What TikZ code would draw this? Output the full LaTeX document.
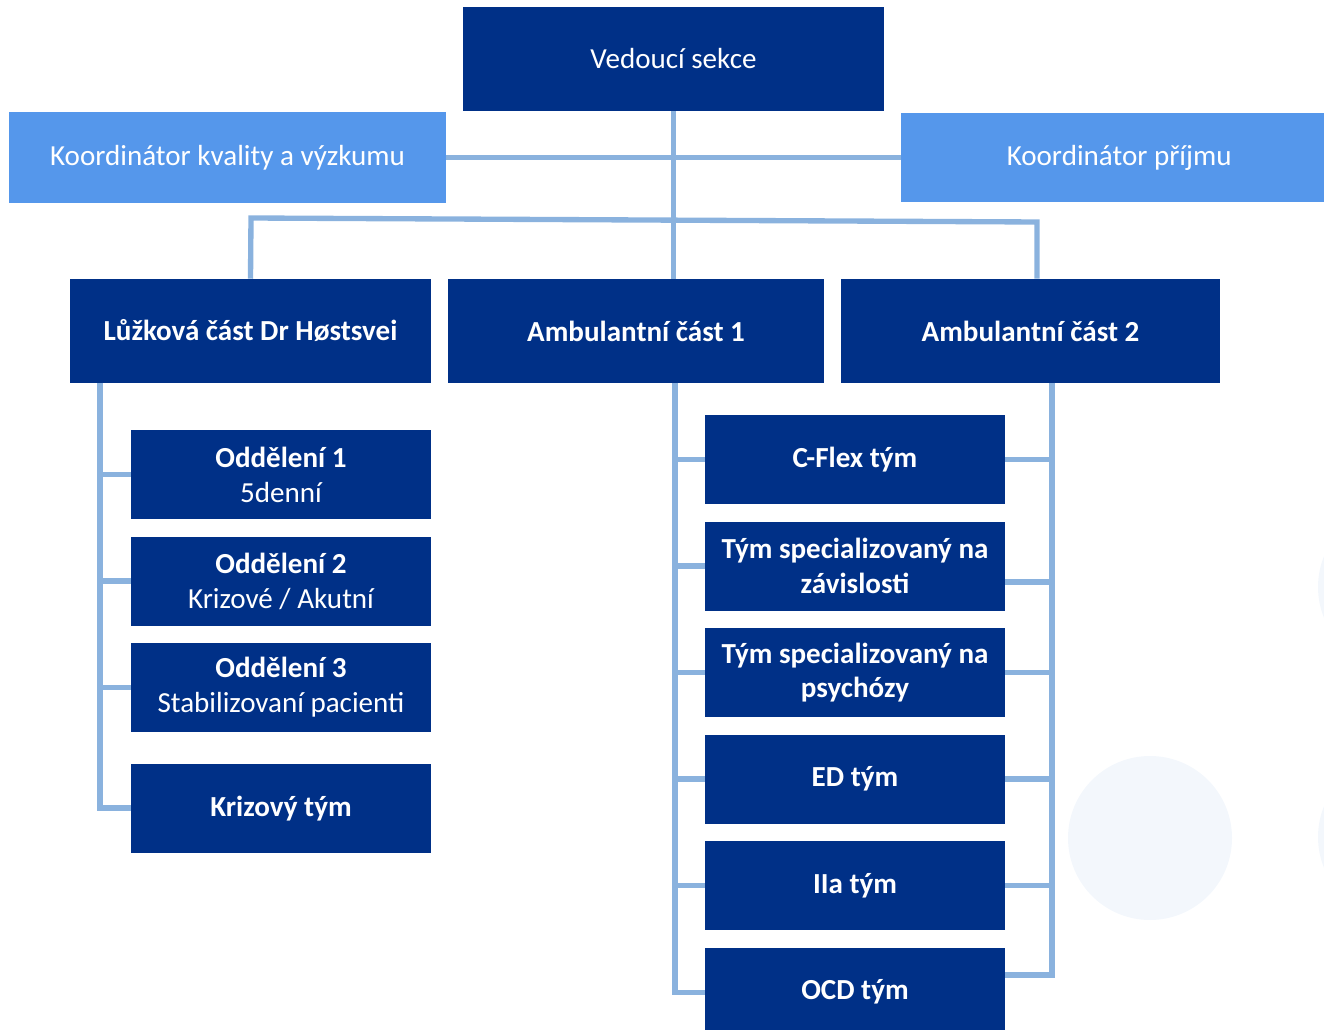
\documentclass[tikz,border=0pt]{standalone}
\usepackage{fontspec}
\setmainfont{Carlito}
\usetikzlibrary{positioning,calc}
\definecolor{navy}{HTML}{003087}
\definecolor{sky}{HTML}{5597EB}
\definecolor{link}{HTML}{8AB2DE}
\definecolor{haze}{HTML}{F3F7FC}
\tikzset{x=0.75pt, y=-0.75pt, % one unit is one pixel of the original
box/.style={fill=navy, text=white, align=center, inner sep=0pt, font=\fontsize{21.8}{26.2}\selectfont}, % dark boxes
unit/.style={box, font=\fontsize{21.8}{26.2}\selectfont\bfseries, minimum height=78pt}, % the three parts
team/.style={box, minimum width=225pt, minimum height=66.75pt}, % small boxes below the parts
coord/.style={box, fill=sky}, % the two coordinators
link/.style={draw=link, line width=4pt}, % connecting lines
node distance=12.75pt, % gap between the small boxes
}

\begin{document}
\begin{tikzpicture}
\useasboundingbox (0,0) rectangle (1324,1030);
% faint circles in the back
\fill[haze] (1150,838) circle[radius=61.5pt];
\fill[haze] (1400,587) circle[radius=61.5pt];
\fill[haze] (1400,837) circle[radius=61.5pt];

\node[box, minimum width=315.75pt, minimum height=78pt] (lead) at (673.5,59) {Vedoucí sekce};
\node[coord, minimum width=327.75pt, minimum height=68.25pt] (qual) at (227.5,157.5) {Koordinátor kvality a výzkumu};
\node[coord, minimum width=317.25pt, minimum height=66.75pt] (intake) at (1112.5,157.5) {\hspace*{10pt}Koordinátor příjmu};

\node[unit, minimum width=270.75pt] (ward) at (250.5,331) {Lůžková část Dr Høstsvei};
\node[unit, minimum width=282pt] (amb1) at (636,331) {Ambulantní část 1};
\node[unit, minimum width=284.25pt] (amb2) at (1030.5,331) {Ambulantní část 2};

\node[team] (odd1) at (281,474.5) {\textbf{Oddělení 1}\\5denní};
\node[team, below=of odd1] (odd2) {\textbf{Oddělení 2}\\Krizové / Akutní};
\node[team, below=of odd2] (odd3) {\textbf{Oddělení 3}\\Stabilizovaní pacienti};
\node[team, below=23.25pt of odd3, font=\fontsize{21.8}{26.2}\selectfont\bfseries] (crisis) {Krizový tým};

\node[team, font=\fontsize{21.8}{26.2}\selectfont\bfseries] (cflex) at (855,459.5) {C-Flex tým};
\node[team, below=of cflex, font=\fontsize{21.8}{26.2}\selectfont\bfseries] (addict) {Tým specializovaný na\\závislosti};
\node[team, below=of addict, font=\fontsize{21.8}{26.2}\selectfont\bfseries] (psych) {Tým specializovaný na\\psychózy};
\node[team, below=of psych, font=\fontsize{21.8}{26.2}\selectfont\bfseries] (ed) {ED tým};
\node[team, below=of ed, font=\fontsize{21.8}{26.2}\selectfont\bfseries] (iia) {IIa tým};
\node[team, below=of iia, font=\fontsize{21.8}{26.2}\selectfont\bfseries] (ocd) {OCD tým};

\coordinate (busL) at (251,218);
\coordinate (busR) at (1037,222);
\coordinate (trunkL) at (100,383);
\coordinate (trunkM) at (675,383);
\coordinate (trunkR) at (1052,383);
\coordinate (endR) at (1052,975);

\draw[link] (qual.east) -- (intake.west);
\draw[link] (lead.south) -- (lead.south |- amb1.north);
\draw[link] (ward.north) -- (busL) -- (busR) -- (busR |- amb2.north);

\draw[link] (trunkL) |- (crisis.west);
\foreach \n in {odd1,odd2,odd3}
  \draw[link] (trunkL |- \n.west) -- (\n.west);

\draw[link] (trunkM) |- (ocd.west);
\foreach \n in {cflex,addict,psych,ed,iia}
  \draw[link] (trunkM |- \n.west) -- (\n.west);

\draw[link] (trunkR) -- (endR) -- (endR -| ocd.east);
\foreach \n/\dy in {cflex/0,addict/16,psych/0,ed/0,iia/0}
  \draw[link] ($(\n.east)+(0,\dy)$) -- ($(trunkR |- \n.east)+(0,\dy)$);
\end{tikzpicture}
\end{document}
